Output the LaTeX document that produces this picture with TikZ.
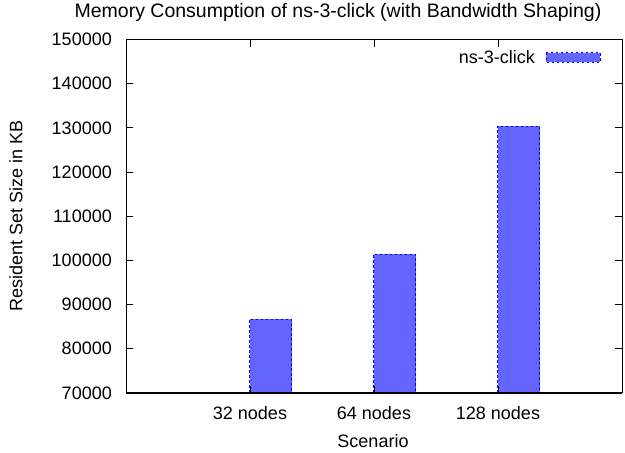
\documentclass[tikz,border=0pt]{standalone}
\usepackage{fontspec}
\setmainfont{Liberation Sans}
\definecolor{barfill}{RGB}{100,100,255}
\begin{document}
\begin{tikzpicture}[x=1pt,y=-1pt,
  lbl/.style={font=\fontsize{18}{21}\selectfont, inner sep=0pt},
  ttl/.style={font=\fontsize{19.5}{22}\selectfont, inner sep=0pt},
  frame/.style={line width=1pt, black},
  tick/.style={line width=0.9pt, black},
  bar/.style={fill=barfill, draw=blue, dash pattern=on 2.5pt off 2.5pt, line width=0.8pt}]
\useasboundingbox (0,0) rectangle (625,453);
% title
\node[ttl] (title) at (338,12) {Memory Consumption of ns-3-click (with Bandwidth Shaping)};
% bars
\foreach \i/\v in {0/86.7,1/101.45,2/130.4}{
  \pgfmathsetmacro{\xa}{249.5+124*\i}
  \pgfmathsetmacro{\ya}{392.8-(\v-70)*4.41625}
  \draw[bar] (\xa,392.8) rectangle (\xa+42,\ya);
}
% y ticks and labels
\foreach \v in {70,80,...,150}{
  \pgfmathsetmacro{\yy}{392.8-(\v-70)*4.41625}
  \draw[tick] (126,\yy) -- (133,\yy);
  \draw[tick] (622,\yy) -- (615,\yy);
  \node[lbl, anchor=east] (yl\v) at (112,\yy) {\v000};
}
% x ticks and labels
\foreach \i/\t in {0/32 nodes,1/64 nodes,2/128 nodes}{
  \pgfmathsetmacro{\xx}{250+124*\i}
  \draw[tick] (\xx,392.8) -- (\xx,385.8);
  \draw[tick] (\xx,39.5) -- (\xx,46.5);
  \node[lbl] (xl\i) at (\xx,413) {\t};
}
% frame
\draw[frame] (126,39.5) rectangle (622,392.8);
\draw[frame, line width=1.4pt] (126,392.8) -- (622,392.8);
% axis titles
\node[lbl] (xtitle) at (373,441) {Scenario};
\node[lbl, rotate=90] (ytitle) at (16,216) {Resident Set Size in KB};
% legend
\node[lbl, anchor=east] (legtext) at (535,57) {ns-3-click};
\draw[bar] (546,52.5) rectangle (600,62);
\end{tikzpicture}
\end{document}
